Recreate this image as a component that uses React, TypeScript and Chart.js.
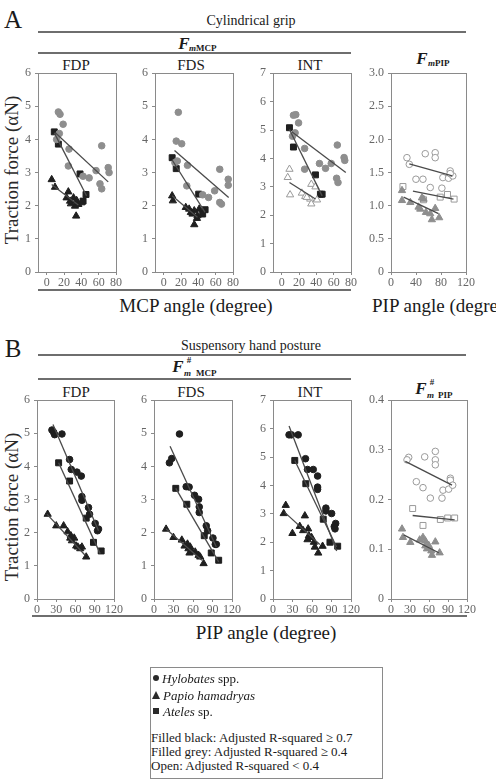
import React, { useEffect, useRef } from "react";
import { Chart, registerables } from "chart.js";

Chart.register(...registerables);

const SERIF = "'Liberation Serif', 'Times New Roman', serif";
Chart.defaults.font.family = SERIF;

// ---------- tick labels ----------
const mcpAngleTicks = [0, 20, 40, 60, 80];
const pipAngleTicksA = [0, 40, 80, 120];
const pipAngleTicksB = [0, 30, 60, 90, 120];

// ---------- A: cylindrical grip, F_mMCP vs MCP angle ----------
const cylFdpHylobates = [[13.5, 4.83], [15.4, 4.76], [19, 4.46], [14.6, 4.18], [11.5, 4.0], [25.8, 3.71], [25, 3.2], [42, 2.89], [49, 2.84], [57, 3.06], [63.5, 3.81], [61.5, 2.66], [63.5, 2.51], [71, 3.15], [72, 3.0]];
const cylFdpAteles = [[8.8, 4.23], [13.5, 3.86], [38.5, 2.96], [45.4, 2.34], [42, 2.14]];
const cylFdpPapio = [[5.8, 2.79], [9.6, 2.56], [25, 2.42], [23, 2.24], [27, 2.14], [31, 2.24], [34.6, 2.16], [32.7, 1.99], [36.5, 2.04], [40, 2.09], [34, 1.69], [28, 2.06]];
const cylFdpHylobatesFit = [[10, 4.2], [71, 2.72]];
const cylFdpAtelesFit = [[8.8, 4.2], [46, 2.3]];
const cylFdpPapioFit = [[5.8, 2.64], [36.5, 2.02]];

const cylFdsHylobates = [[16.9, 4.82], [14.5, 3.95], [20.8, 3.87], [15.7, 3.35], [13, 3.3], [27.5, 3.22], [26.7, 2.6], [45, 2.33], [51.8, 2.25], [58.8, 2.45], [64.7, 3.1], [64.7, 2.1], [66.7, 2.05], [74.5, 2.8], [74.5, 2.62]];
const cylFdsAteles = [[9.8, 3.45], [14.5, 3.12], [40.4, 2.35], [47.8, 1.88], [45, 1.75]];
const cylFdsPapio = [[9.8, 2.3], [10.6, 2.15], [25.5, 1.95], [29.4, 1.9], [31.4, 1.8], [33.3, 1.75], [35.3, 1.85], [41, 1.9], [39, 1.7], [35.3, 1.43], [38.4, 1.62]];
const cylFdsHylobatesFit = [[12.5, 3.67], [75, 2.25]];
const cylFdsAtelesFit = [[9.8, 3.38], [47.8, 1.8]];
const cylFdsPapioFit = [[9.8, 2.3], [39, 1.65]];

const cylIntHylobates = [[13.6, 5.52], [16.3, 5.54], [19.5, 5.25], [12.5, 4.78], [15.5, 4.9], [26.5, 4.35], [26.5, 3.62], [43.6, 3.82], [50.6, 3.65], [57.2, 3.82], [64.2, 4.47], [63.4, 3.3], [65, 3.15], [72, 4.03], [72.8, 3.93]];
const cylIntAteles = [[9, 5.08], [13.6, 4.4], [39, 3.42], [46.7, 2.74], [44.7, 2.74]];
const cylIntPapio = [[9, 3.62], [7, 3.33], [9.7, 2.72], [23.3, 2.78], [27.2, 2.66], [34.2, 3.09], [39, 3.0], [33, 2.57], [34.2, 2.4], [40.8, 2.54], [29, 2.63]];
const cylIntHylobatesFit = [[11.7, 4.94], [74, 3.5]];
const cylIntAtelesFit = [[9, 5.02], [46.7, 2.68]];
const cylIntPapioFit = [[9, 3.15], [39, 2.57]];

// ---------- A: cylindrical grip, F_mPIP vs PIP angle ----------
const cylPipHylobates = [[25.5, 1.725], [29.3, 1.625], [54.8, 1.785], [70.7, 1.8], [70.7, 1.725], [39.9, 1.4], [51.1, 1.4], [62.8, 1.275], [83, 1.425], [81.4, 1.265], [92, 1.415], [94.7, 1.525], [98.9, 1.45], [94.7, 1.485]];
const cylPipAteles = [[19.1, 1.29], [52.1, 1.09], [78.7, 1.13], [90.4, 1.17], [101, 1.1]];
const cylPipPapio = [[17.6, 1.23], [17.6, 1.08], [30.9, 1.05], [44.1, 0.98], [49.5, 1.12], [52.1, 1.1], [55.9, 0.9], [62.8, 0.88], [65.4, 0.79], [70.7, 0.96], [77.1, 0.82], [46.8, 0.95]];
const cylPipHylobatesFit = [[29.3, 1.63], [98, 1.45]];
const cylPipAtelesFit = [[35.1, 1.22], [100, 1.1]];
const cylPipPapioFit = [[20.2, 1.13], [76, 0.88]];

// ---------- B: suspensory hand posture, F#m vs PIP angle ----------
const susFdpHylobates = [[23.3, 5.1], [27.5, 4.96], [38.9, 4.98], [26, 5.03], [50.8, 4.21], [53.4, 3.91], [62.2, 3.83], [69, 3.71], [70, 3.09], [70, 2.98], [80.3, 2.76], [81.9, 2.56], [90.7, 2.28], [94.3, 2.06], [95.9, 2.11]];
const susFdpAteles = [[33.7, 4.11], [50.8, 3.56], [76.7, 2.44], [88, 1.71], [100, 1.45]];
const susFdpPapio = [[16.6, 2.56], [30, 2.21], [41.5, 2.21], [47.7, 2.03], [52.8, 1.91], [54.4, 1.76], [51.8, 1.84], [58, 1.84], [61.1, 1.6], [63.7, 1.57], [70, 1.57], [76.7, 1.27], [67.4, 1.52]];
const susFdpHylobatesFit = [[24.9, 5.27], [95.9, 2.06]];
const susFdpAtelesFit = [[33.7, 4.11], [98.4, 1.37]];
const susFdpPapioFit = [[15.5, 2.56], [75, 1.32]];

const susFdsHylobates = [[39.2, 4.98], [23.7, 4.11], [27.3, 4.24], [49.5, 3.39], [54, 3.38], [62.4, 3.13], [68.6, 3.01], [69.6, 2.78], [69.6, 2.61], [80.4, 2.21], [82.5, 2.06], [90.7, 1.84], [94.3, 1.65], [95.9, 1.65]];
const susFdsAteles = [[33.5, 3.34], [50.5, 2.86], [77.3, 1.91], [88.1, 1.39], [99.5, 1.17]];
const susFdsPapio = [[18.6, 2.11], [29.9, 1.86], [42.8, 1.78], [47, 1.6], [51.5, 1.66], [55.7, 1.57], [53, 1.52], [57.2, 1.47], [54.6, 1.39], [63.4, 1.42], [68.6, 1.32], [71.1, 1.27], [76.3, 1.07]];
const susFdsHylobatesFit = [[24.7, 4.61], [95.9, 1.57]];
const susFdsAtelesFit = [[33.5, 3.34], [99.5, 1.12]];
const susFdsPapioFit = [[18.6, 2.11], [73.7, 1.17]];

const susIntHylobates = [[24.7, 5.78], [28.4, 5.78], [38.7, 5.78], [50, 4.94], [53.1, 4.56], [61.9, 4.56], [68.6, 4.33], [68.6, 3.94], [68.6, 3.86], [81.4, 3.2], [81.4, 3.1], [90.2, 3.01], [96.4, 2.66], [94.3, 2.55], [95.4, 2.47]];
const susIntAteles = [[33.5, 4.88], [50.5, 4.06], [77.3, 2.81], [87.6, 2.0], [99.5, 1.86]];
const susIntPapio = [[19.6, 3.3], [16.5, 3.01], [29.9, 2.31], [49, 2.93], [41.2, 2.56], [46.4, 2.41], [54.1, 2.47], [55.2, 2.23], [53.1, 2.09], [62.9, 2.0], [64.4, 1.83], [76.3, 1.86], [69.6, 1.62], [59.3, 2.17]];
const susIntHylobatesFit = [[24.7, 6.09], [97.9, 1.69]];
const susIntAtelesFit = [[33.5, 4.88], [97.9, 1.83]];
const susIntPapioFit = [[18, 3.05], [72, 1.92]];

const susPipHylobates = [[27.9, 0.285], [25.3, 0.28], [53.2, 0.286], [70, 0.297], [70, 0.28], [70, 0.27], [40, 0.236], [50.5, 0.224], [62.1, 0.203], [82.1, 0.219], [80.5, 0.203], [91, 0.221], [93.7, 0.243], [93.7, 0.239], [97.4, 0.229]];
const susPipAteles = [[34.2, 0.182], [50.5, 0.148], [77.9, 0.16], [89.5, 0.163], [100.5, 0.163]];
const susPipPapio = [[17.4, 0.141], [18.9, 0.124], [30.5, 0.114], [45.3, 0.119], [50.5, 0.124], [54.2, 0.117], [54.2, 0.107], [56.8, 0.101], [63.7, 0.097], [64.7, 0.088], [70, 0.115], [76.8, 0.093], [59.5, 0.108]];
const susPipHylobatesFit = [[22.6, 0.277], [96.3, 0.229]];
const susPipAtelesFit = [[34.2, 0.168], [100.5, 0.159]];
const susPipPapioFit = [[20, 0.129], [75.3, 0.093]];

// ---------- styling ----------
type Tone = "black" | "grey" | "open";
type Shape = "circle" | "triangle" | "rect";
type Series = { pts: number[][]; fit: number[][]; shape: Shape; tone: Tone };
type PanelCfg = {
  left: number; right: number; top: number; bottom: number;
  xMin: number; xMax: number; xTicks: number[];
  yMax: number; yStep: number; decimals: number;
  series: Series[];
};

const FILL: Record<Tone, string> = { black: "#1f1f1f", grey: "#8e8e8e", open: "#ffffff" };
const STROKE: Record<Tone, string> = { black: "#1f1f1f", grey: "#8e8e8e", open: "#9a9a9a" };
const RADIUS: Record<Shape, number> = { circle: 3.3, triangle: 4.2, rect: 4.2 };
const FIT_COLOR = "#4a4a4a";
const AXIS_COLOR = "#8a8a8a";
const TICK_COLOR = "#666666";

const trio = (h: number[][], hf: number[][], ht: Tone, p: number[][], pf: number[][], pt: Tone, a: number[][], af: number[][], at: Tone): Series[] => [
  { pts: h, fit: hf, shape: "circle", tone: ht },
  { pts: p, fit: pf, shape: "triangle", tone: pt },
  { pts: a, fit: af, shape: "rect", tone: at },
];

const panels: PanelCfg[] = [
  { left: 38, right: 116, top: 72, bottom: 272, xMin: -10, xMax: 80, xTicks: mcpAngleTicks, yMax: 6, yStep: 1, decimals: 0,
    series: trio(cylFdpHylobates, cylFdpHylobatesFit, "grey", cylFdpPapio, cylFdpPapioFit, "black", cylFdpAteles, cylFdpAtelesFit, "black") },
  { left: 155, right: 233, top: 72, bottom: 272, xMin: -10, xMax: 80, xTicks: mcpAngleTicks, yMax: 6, yStep: 1, decimals: 0,
    series: trio(cylFdsHylobates, cylFdsHylobatesFit, "grey", cylFdsPapio, cylFdsPapioFit, "black", cylFdsAteles, cylFdsAtelesFit, "black") },
  { left: 273, right: 351, top: 72, bottom: 272, xMin: -10, xMax: 80, xTicks: mcpAngleTicks, yMax: 7, yStep: 1, decimals: 0,
    series: trio(cylIntHylobates, cylIntHylobatesFit, "grey", cylIntPapio, cylIntPapioFit, "open", cylIntAteles, cylIntAtelesFit, "black") },
  { left: 391, right: 466, top: 72, bottom: 272, xMin: 0, xMax: 120, xTicks: pipAngleTicksA, yMax: 3, yStep: 0.5, decimals: 1,
    series: trio(cylPipHylobates, cylPipHylobatesFit, "open", cylPipPapio, cylPipPapioFit, "grey", cylPipAteles, cylPipAtelesFit, "open") },
  { left: 37, right: 114, top: 399, bottom: 599, xMin: 0, xMax: 120, xTicks: pipAngleTicksB, yMax: 6, yStep: 1, decimals: 0,
    series: trio(susFdpHylobates, susFdpHylobatesFit, "black", susFdpPapio, susFdpPapioFit, "black", susFdpAteles, susFdpAtelesFit, "black") },
  { left: 154, right: 232, top: 399, bottom: 599, xMin: 0, xMax: 120, xTicks: pipAngleTicksB, yMax: 6, yStep: 1, decimals: 0,
    series: trio(susFdsHylobates, susFdsHylobatesFit, "black", susFdsPapio, susFdsPapioFit, "black", susFdsAteles, susFdsAtelesFit, "black") },
  { left: 273, right: 351, top: 399, bottom: 599, xMin: 0, xMax: 120, xTicks: pipAngleTicksB, yMax: 7, yStep: 1, decimals: 0,
    series: trio(susIntHylobates, susIntHylobatesFit, "black", susIntPapio, susIntPapioFit, "black", susIntAteles, susIntAtelesFit, "black") },
  { left: 391, right: 467, top: 399, bottom: 599, xMin: 0, xMax: 120, xTicks: pipAngleTicksB, yMax: 0.4, yStep: 0.1, decimals: 1,
    series: trio(susPipHylobates, susPipHylobatesFit, "open", susPipPapio, susPipPapioFit, "grey", susPipAteles, susPipAtelesFit, "open") },
];

// canvas margins around each plot frame
const PAD_L = 32;
const PAD_R = 12;
const PAD_T = 10;
const PAD_B = 20;

const framePlugin = {
  id: "frame",
  beforeDatasetsDraw(chart: any) {
    const { ctx, chartArea: a } = chart;
    ctx.save();
    ctx.strokeStyle = AXIS_COLOR;
    ctx.lineWidth = 1;
    ctx.strokeRect(Math.round(a.left) + 0.5, Math.round(a.top) + 0.5, Math.round(a.right - a.left), Math.round(a.bottom - a.top));
    ctx.restore();
  },
};

const toXY = (arr: number[][]) => arr.map(([x, y]) => ({ x, y }));

function Panel({ cfg }: { cfg: PanelCfg }) {
  const ref = useRef<HTMLCanvasElement>(null);
  const w = cfg.right - cfg.left + PAD_L + PAD_R;
  const h = cfg.bottom - cfg.top + PAD_T + PAD_B;

  useEffect(() => {
    const fitSets = cfg.series.map((s) => ({
      type: "scatter" as const,
      data: toXY(s.fit),
      showLine: true,
      borderColor: FIT_COLOR,
      borderWidth: 1.3,
      pointRadius: 0,
      fill: false,
    }));
    const pointSets = cfg.series.map((s) => ({
      type: "scatter" as const,
      data: toXY(s.pts),
      showLine: false,
      pointStyle: s.shape,
      pointRadius: RADIUS[s.shape],
      backgroundColor: FILL[s.tone],
      borderColor: STROKE[s.tone],
      borderWidth: 1,
    }));
    const tickFont = { family: SERIF, size: 12 };
    const chart = new Chart(ref.current!, {
      type: "scatter",
      data: { datasets: [...fitSets, ...pointSets] as any },
      plugins: [framePlugin],
      options: {
        animation: false,
        responsive: false,
        maintainAspectRatio: false,
        events: [],
        layout: { padding: { left: 0, right: PAD_R, top: PAD_T, bottom: 0 } },
        plugins: { legend: { display: false }, tooltip: { enabled: false } },
        scales: {
          x: {
            type: "linear",
            min: cfg.xMin,
            max: cfg.xMax,
            afterBuildTicks: (s: any) => { s.ticks = cfg.xTicks.map((v) => ({ value: v })); },
            afterFit: (s: any) => { s.height = PAD_B; },
            ticks: { font: tickFont, color: TICK_COLOR, padding: 1, maxRotation: 0, autoSkip: false, callback: (v: any) => String(v) },
            grid: { display: true, drawOnChartArea: false, drawTicks: true, tickLength: 3, color: AXIS_COLOR },
            border: { display: false },
          },
          y: {
            type: "linear",
            min: 0,
            max: cfg.yMax,
            afterFit: (s: any) => { s.width = PAD_L; },
            ticks: {
              stepSize: cfg.yStep,
              font: tickFont,
              color: TICK_COLOR,
              padding: 4,
              callback: (v: any) => (Number(v) === 0 ? "0" : Number(v).toFixed(cfg.decimals)),
            },
            grid: { display: true, drawOnChartArea: false, drawTicks: true, tickLength: 3, color: AXIS_COLOR },
            border: { display: false },
          },
        },
      },
    });
    return () => chart.destroy();
  }, [cfg]);

  return (
    <canvas
      ref={ref}
      width={w}
      height={h}
      style={{ position: "absolute", left: cfg.left - PAD_L, top: cfg.top - PAD_T, width: w, height: h }}
    />
  );
}

// ---------- text helpers ----------
function T({ x, y, size, children, style, left }: { x: number; y: number; size: number; children: React.ReactNode; style?: React.CSSProperties; left?: boolean }) {
  return (
    <div
      style={{
        position: "absolute",
        left: x,
        top: y,
        transform: left ? "translate(0,-50%)" : "translate(-50%,-50%)",
        fontSize: size,
        fontFamily: SERIF,
        lineHeight: 1,
        whiteSpace: "nowrap",
        color: "#1a1a1a",
        ...style,
      }}
    >
      {children}
    </div>
  );
}

function Rule({ x1, x2, y }: { x1: number; x2: number; y: number }) {
  return <div style={{ position: "absolute", left: x1, top: y - 1, width: x2 - x1, height: 2, background: "#6e6e6e" }} />;
}

function YTitle({ y }: { y: number }) {
  return (
    <div
      style={{
        position: "absolute",
        left: 11,
        top: y,
        transform: "translate(-50%,-50%) rotate(-90deg)",
        fontSize: 19,
        fontFamily: SERIF,
        lineHeight: 1,
        whiteSpace: "nowrap",
        color: "#2a2a2a",
      }}
    >
      Traction force (αN)
    </div>
  );
}

const bold: React.CSSProperties = { fontWeight: "bold" };
const boldItalic: React.CSSProperties = { fontWeight: "bold", fontStyle: "italic" };

export default function App() {
  return (
    <div style={{ position: "absolute", left: 0, top: 0, width: 496, height: 780, overflow: "hidden", background: "#fff" }}>
      {/* ---- A ---- */}
      <T x={13} y={19} size={25}>A</T>
      <T x={251} y={21} size={14}>Cylindrical grip</T>
      <Rule x1={38} x2={466} y={32} />
      <T x={184} y={43} size={17} style={boldItalic}>F</T>
      <T x={189} y={48} size={9} left style={bold}><i>m</i>MCP</T>
      <Rule x1={38} x2={351} y={53} />
      <T x={76} y={65} size={15}>FDP</T>
      <T x={191} y={65} size={15}>FDS</T>
      <T x={310} y={65} size={15}>INT</T>
      <T x={422} y={58} size={17} style={boldItalic}>F</T>
      <T x={428} y={63} size={9} left style={bold}><i>m</i>PIP</T>
      <YTitle y={170} />
      <Rule x1={38} x2={351} y={290} />
      <T x={196} y={305} size={19}>MCP angle (degree)</T>
      <T x={372} y={305} size={19} left>PIP angle (degree)</T>

      {/* ---- B ---- */}
      <T x={13} y={348} size={25}>B</T>
      <T x={251} y={346} size={14}>Suspensory hand posture</T>
      <Rule x1={38} x2={466} y={355} />
      <T x={178} y={366} size={17} style={boldItalic}>F</T>
      <T x={189} y={360} size={9} style={bold}>#</T>
      <T x={184} y={373} size={9} left style={boldItalic}>m</T>
      <T x={196} y={373} size={9} left style={bold}>MCP</T>
      <Rule x1={38} x2={351} y={379} />
      <T x={76} y={392} size={15}>FDP</T>
      <T x={191} y={392} size={15}>FDS</T>
      <T x={310} y={392} size={15}>INT</T>
      <T x={421} y={388} size={17} style={boldItalic}>F</T>
      <T x={432} y={382} size={9} style={bold}>#</T>
      <T x={427} y={395} size={9} left style={boldItalic}>m</T>
      <T x={438} y={395} size={9} left style={bold}>PIP</T>
      <YTitle y={507} />
      <Rule x1={32} x2={467} y={616} />
      <T x={266} y={632} size={19}>PIP angle (degree)</T>

      {panels.map((p, i) => (
        <Panel key={i} cfg={p} />
      ))}

      {/* ---- legend ---- */}
      <div style={{ position: "absolute", left: 150, top: 667, width: 231, height: 110, border: "1px solid #8a8a8a" }} />
      <div style={{ position: "absolute", left: 153, top: 675, width: 6, height: 6, borderRadius: "50%", background: "#2a2a2a" }} />
      <T x={162} y={678} size={13} left><i>Hylobates</i> spp.</T>
      <div style={{ position: "absolute", left: 152, top: 691, width: 0, height: 0, borderLeft: "4.5px solid transparent", borderRight: "4.5px solid transparent", borderBottom: "8px solid #2a2a2a" }} />
      <T x={163} y={695} size={13} left><i>Papio hamadryas</i></T>
      <div style={{ position: "absolute", left: 153, top: 708, width: 6, height: 6, background: "#2a2a2a" }} />
      <T x={163} y={711} size={13} left><i>Ateles</i> sp.</T>
      <T x={151} y={737} size={13} left>Filled black: Adjusted R-squared ≥ 0.7</T>
      <T x={151} y={751} size={13} left>Filled grey: Adjusted R-squared ≥ 0.4</T>
      <T x={151} y={765} size={13} left>Open: Adjusted R-squared &lt; 0.4</T>
    </div>
  );
}
